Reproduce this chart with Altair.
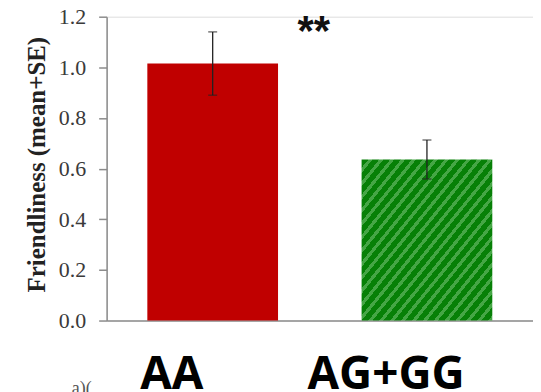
import altair as alt
import pandas as pd

categories = ["AA", "AG+GG"]
means = [1.015, 0.636]
se = [0.125, 0.077]
y_ticks = [0.0, 0.2, 0.4, 0.6, 0.8, 1.0, 1.2]
signif = "**"

df = pd.DataFrame({
    "genotype": categories,
    "mean": means,
    "lo": [m - s for m, s in zip(means, se)],
    "hi": [m + s for m, s in zip(means, se)],
})

# diagonal stripes for the green bar, built as a hard-stop gradient
n_per = 24
dark, light = "#078007", "#45a645"
stops = []
for k in range(n_per):
    a = k / n_per
    b = (k + 0.62) / n_per
    c = (k + 1) / n_per
    stops += [
        alt.GradientStop(offset=a, color=dark),
        alt.GradientStop(offset=b, color=dark),
        alt.GradientStop(offset=b, color=light),
        alt.GradientStop(offset=min(c, 1.0), color=light),
    ]
stripes = alt.Gradient(gradient="linear", stops=stops, x1=0, y1=0, x2=1, y2=1)

x_scale = alt.Scale(domain=categories, paddingInner=0.39, paddingOuter=0.19)
x_enc = alt.X(
    "genotype:N",
    sort=categories,
    scale=x_scale,
    axis=alt.Axis(
        title=None, labels=False, ticks=False, tickSize=0,
        domainColor="#8c8c8c", domainWidth=1.5,
    ),
)
y_scale = alt.Scale(domain=[0, 1.2], nice=False)
y_enc = alt.Y(
    "mean:Q",
    scale=y_scale,
    axis=alt.Axis(
        title="Friendliness  (mean+SE)", values=y_ticks, format=".1f",
        grid=False, tickSize=8, tickColor="#8c8c8c", domainColor="#8c8c8c",
        domainWidth=1.5, tickWidth=1.5, labelPadding=13,
        labelFont="Liberation Serif", labelFontSize=22, labelColor="#3a3a3a",
        titleFont="Liberation Serif", titleFontSize=25, titleFontWeight="bold",
        titleColor="#222222", titleX=-70, titleY=148, titleAngle=-90,
        titleAlign="center", titleBaseline="middle",
    ),
)

base = alt.Chart(df)
red_bar = base.transform_filter(alt.datum.genotype == "AA").mark_bar(
    fill="#c00000"
).encode(x=x_enc, y=y_enc)
green_bar = base.transform_filter(alt.datum.genotype == "AG+GG").mark_bar(
    fill=stripes
).encode(x=x_enc, y=y_enc)

xs = alt.X("genotype:N", sort=categories, scale=x_scale)
err = base.mark_rule(color="#222222", strokeWidth=1.3).encode(
    x=xs, y=alt.Y("lo:Q", scale=y_scale), y2="hi:Q",
)
cap_hi = base.mark_tick(color="#222222", orient="horizontal", size=9, thickness=1.3).encode(
    x=xs, y=alt.Y("hi:Q", scale=y_scale)
)
cap_lo = base.mark_tick(color="#222222", orient="horizontal", size=9, thickness=1.3).encode(
    x=xs, y=alt.Y("lo:Q", scale=y_scale)
)

cat_labels = base.mark_text(
    font="Open Sans", fontWeight="bold", fontSize=46, color="#000000",
    baseline="alphabetic", align="center", dx=-41,
).encode(x=xs, y=alt.value(305 + 69), text="genotype:N")

star = alt.Chart(pd.DataFrame({"t": [signif]})).mark_text(
    font="Liberation Sans", fontWeight="bold", fontSize=42, color="#111111",
    baseline="alphabetic", align="center",
).encode(x=alt.value(208), y=alt.value(28), text="t:N")

corner = alt.Chart(pd.DataFrame({"t": ["a)("]})).mark_text(
    font="Liberation Serif", fontSize=18, color="#555555",
    baseline="alphabetic", align="left",
).encode(x=alt.value(-35), y=alt.value(379), text="t:N")

chart = alt.layer(red_bar, green_bar, err, cap_hi, cap_lo, cat_labels, star, corner).properties(
    width=428, height=305,
    autosize=alt.AutoSizeParams(type="none"),
    padding={"left": 99, "top": 8, "right": 0, "bottom": 71},
).configure_view(stroke=None).configure(background="white")

chart.save("out.html", embed_options={"renderer": "svg", "actions": False})
